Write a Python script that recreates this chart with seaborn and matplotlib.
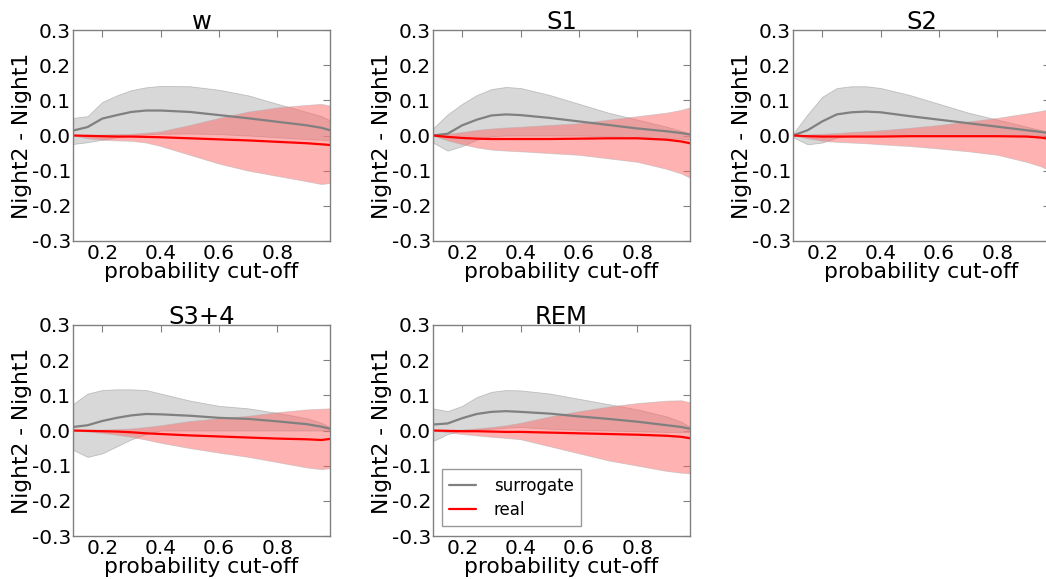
import numpy as np
import pandas as pd
import matplotlib
matplotlib.use("Agg")
import matplotlib.pyplot as plt
from matplotlib.lines import Line2D
import seaborn as sns

# ---------------- data ----------------
cutoff = [0.10, 0.15, 0.20, 0.25, 0.30, 0.35, 0.40, 0.50, 0.60, 0.70, 0.80, 0.90, 0.95, 0.98]
stages = ["w", "S1", "S2", "S3+4", "REM"]

# surrogate mean / lower / upper
w_sur_mean = [0.014, 0.024, 0.048, 0.058, 0.067, 0.071, 0.071, 0.067, 0.058, 0.049, 0.039, 0.029, 0.022, 0.015]
w_sur_low  = [-0.024, -0.019, -0.012, -0.005, 0.000, 0.003, 0.005, 0.006, 0.004, 0.000, -0.005, -0.010, -0.012, -0.014]
w_sur_up   = [0.050, 0.055, 0.095, 0.114, 0.129, 0.137, 0.141, 0.140, 0.130, 0.114, 0.090, 0.067, 0.055, 0.043]
w_real_mean = [0.000, -0.001, -0.002, -0.003, -0.003, -0.004, -0.005, -0.008, -0.011, -0.014, -0.018, -0.022, -0.025, -0.027]
w_real_low  = [0.000, -0.008, -0.012, -0.014, -0.015, -0.020, -0.030, -0.055, -0.080, -0.100, -0.115, -0.130, -0.138, -0.135]
w_real_up   = [0.000, 0.002, 0.003, 0.004, 0.005, 0.008, 0.012, 0.030, 0.050, 0.068, 0.080, 0.087, 0.090, 0.085]

s1_sur_mean = [0.000, 0.005, 0.029, 0.045, 0.057, 0.060, 0.058, 0.050, 0.040, 0.030, 0.020, 0.012, 0.007, 0.003]
s1_sur_low  = [-0.020, -0.043, -0.030, -0.012, -0.002, 0.000, 0.000, 0.000, 0.000, -0.002, -0.005, -0.008, -0.009, -0.010]
s1_sur_up   = [0.020, 0.060, 0.090, 0.115, 0.132, 0.138, 0.135, 0.115, 0.090, 0.065, 0.045, 0.025, 0.013, 0.005]
s1_real_mean = [0.000, -0.004, -0.007, -0.009, -0.010, -0.010, -0.010, -0.010, -0.009, -0.008, -0.008, -0.012, -0.017, -0.022]
s1_real_low  = [0.000, -0.014, -0.025, -0.034, -0.040, -0.043, -0.045, -0.050, -0.055, -0.065, -0.075, -0.095, -0.108, -0.120]
s1_real_up   = [0.000, 0.005, 0.010, 0.016, 0.020, 0.023, 0.025, 0.030, 0.035, 0.045, 0.055, 0.065, 0.073, 0.080]

s2_sur_mean = [0.000, 0.015, 0.040, 0.060, 0.066, 0.068, 0.066, 0.055, 0.045, 0.035, 0.025, 0.015, 0.010, 0.006]
s2_sur_low  = [-0.005, -0.025, -0.020, -0.006, 0.000, 0.000, 0.000, 0.000, 0.000, 0.000, 0.000, 0.000, 0.000, 0.000]
s2_sur_up   = [0.005, 0.060, 0.110, 0.135, 0.140, 0.140, 0.135, 0.115, 0.090, 0.065, 0.045, 0.025, 0.015, 0.010]
s2_real_mean = [0.000, -0.002, -0.003, -0.003, -0.003, -0.003, -0.003, -0.002, -0.002, -0.002, -0.002, -0.003, -0.006, -0.010]
s2_real_low  = [0.000, -0.008, -0.015, -0.018, -0.020, -0.022, -0.025, -0.030, -0.037, -0.045, -0.055, -0.075, -0.088, -0.100]
s2_real_up   = [0.000, 0.003, 0.005, 0.007, 0.010, 0.012, 0.015, 0.022, 0.030, 0.040, 0.050, 0.063, 0.070, 0.075]

s34_sur_mean = [0.010, 0.015, 0.027, 0.036, 0.043, 0.047, 0.046, 0.042, 0.036, 0.033, 0.026, 0.018, 0.011, 0.005]
s34_sur_low  = [-0.055, -0.075, -0.065, -0.045, -0.025, -0.010, 0.000, 0.000, 0.000, 0.000, 0.000, 0.000, 0.000, 0.000]
s34_sur_up   = [0.075, 0.105, 0.115, 0.117, 0.117, 0.115, 0.105, 0.085, 0.070, 0.063, 0.050, 0.035, 0.022, 0.010]
s34_real_mean = [0.000, -0.001, -0.002, -0.003, -0.005, -0.008, -0.010, -0.014, -0.017, -0.020, -0.023, -0.025, -0.027, -0.024]
s34_real_low  = [0.000, -0.003, -0.007, -0.012, -0.018, -0.026, -0.035, -0.050, -0.063, -0.075, -0.090, -0.105, -0.110, -0.107]
s34_real_up   = [0.000, 0.002, 0.003, 0.004, 0.006, 0.010, 0.015, 0.027, 0.035, 0.042, 0.052, 0.060, 0.062, 0.063]

rem_sur_mean = [0.017, 0.020, 0.035, 0.047, 0.053, 0.055, 0.053, 0.048, 0.040, 0.033, 0.025, 0.015, 0.010, 0.005]
rem_sur_low  = [-0.030, -0.010, 0.000, 0.003, 0.005, 0.008, 0.010, 0.005, 0.002, 0.000, -0.002, -0.004, -0.004, -0.005]
rem_sur_up   = [0.063, 0.055, 0.070, 0.095, 0.110, 0.115, 0.114, 0.105, 0.090, 0.075, 0.060, 0.040, 0.025, 0.010]
rem_real_mean = [0.000, -0.001, -0.002, -0.002, -0.003, -0.004, -0.004, -0.006, -0.008, -0.010, -0.012, -0.015, -0.018, -0.022]
rem_real_low  = [0.000, -0.005, -0.010, -0.014, -0.018, -0.021, -0.025, -0.045, -0.065, -0.085, -0.100, -0.115, -0.120, -0.122]
rem_real_up   = [0.000, 0.001, 0.003, 0.006, 0.010, 0.015, 0.022, 0.040, 0.055, 0.068, 0.078, 0.085, 0.086, 0.080]

panel_data = {
    "w": (w_sur_mean, w_sur_low, w_sur_up, w_real_mean, w_real_low, w_real_up),
    "S1": (s1_sur_mean, s1_sur_low, s1_sur_up, s1_real_mean, s1_real_low, s1_real_up),
    "S2": (s2_sur_mean, s2_sur_low, s2_sur_up, s2_real_mean, s2_real_low, s2_real_up),
    "S3+4": (s34_sur_mean, s34_sur_low, s34_sur_up, s34_real_mean, s34_real_low, s34_real_up),
    "REM": (rem_sur_mean, rem_sur_low, rem_sur_up, rem_real_mean, rem_real_low, rem_real_up),
}

yticks = [-0.3, -0.2, -0.1, 0.0, 0.1, 0.2, 0.3]
xticks = [0.2, 0.4, 0.6, 0.8]

# ---------------- style ----------------
sns.set_style("white")
plt.rcParams["font.family"] = ["DejaVu Sans"]
plt.rcParams["axes.unicode_minus"] = False
plt.rcParams["text.color"] = "black"
plt.rcParams["axes.labelcolor"] = "black"

W, H = 1046, 579
fig = plt.figure(figsize=(W / 100, H / 100), dpi=100)

# pixel boxes (left, top, right, bottom)
boxes = {
    "w": (73, 30, 330, 241),
    "S1": (433, 30, 690, 241),
    "S2": (793, 30, 1050, 241),
    "S3+4": (73, 325, 330, 536),
    "REM": (433, 325, 690, 536),
}

sur_color = "#808080"
real_color = "#ff0000"

for name in stages:
    l, t, r, b = boxes[name]
    ax = fig.add_axes([l / W, (H - b) / H, (r - l) / W, (b - t) / H])
    sm, slo, sup, rm, rlo, rup = panel_data[name]
    df = pd.DataFrame({
        "cutoff": cutoff * 2,
        "value": list(sm) + list(rm),
        "series": ["surrogate"] * len(cutoff) + ["real"] * len(cutoff),
    })
    ax.fill_between(cutoff, slo, sup, color="#bfbfbf", alpha=0.6, linewidth=0.6, edgecolor="#a0a0a0")
    ax.fill_between(cutoff, rlo, rup, color="#ff6666", alpha=0.5, linewidth=0.6, edgecolor="#b0b0b0")
    sns.lineplot(data=df, x="cutoff", y="value", hue="series",
                 palette={"surrogate": sur_color, "real": real_color},
                 linewidth=1.6, ax=ax, legend=False, sort=False)
    ax.set_xlim(cutoff[0], cutoff[-1])
    ax.set_ylim(-0.3, 0.3)
    ax.set_yticks(yticks)
    ax.set_yticklabels([f"{v:.1f}" for v in yticks])
    ax.set_xticks(xticks)
    ax.set_xticklabels([f"{v:.1f}" for v in xticks])
    ax.tick_params(direction="in", top=True, right=True, length=5, width=0.8,
                   color="#808080", labelcolor="black", labelsize=14.5)
    ax.tick_params(axis="y", pad=1.5)
    ax.tick_params(axis="x", pad=2.5)
    for sp in ax.spines.values():
        sp.set_color("#808080")
        sp.set_linewidth(1.0)
    ax.set_title(name, fontsize=17.5, pad=1, color="black")
    ax.set_xlabel("probability cut-off", fontsize=15.7)
    ax.set_ylabel("Night2 - Night1", fontsize=15.7)
    ax.xaxis.set_label_coords(0.5, -0.10)
    ax.yaxis.set_label_coords(-0.16, 0.5)
    if name == "REM":
        handles = [Line2D([], [], color=sur_color, lw=1.6),
                   Line2D([], [], color=real_color, lw=1.6)]
        leg = ax.legend(handles, ["surrogate", "real"], loc="lower left",
                        bbox_to_anchor=(0.035, 0.047), borderaxespad=0,
                        fontsize=12, frameon=True, fancybox=False,
                        handlelength=1.6, borderpad=0.45,
                        handletextpad=1.05, labelspacing=0.36)
        leg.get_frame().set_edgecolor("#808080")
        leg.get_frame().set_linewidth(1.0)
        for txt in leg.get_texts():
            txt.set_color("black")

fig.savefig("out.png", dpi=100)
